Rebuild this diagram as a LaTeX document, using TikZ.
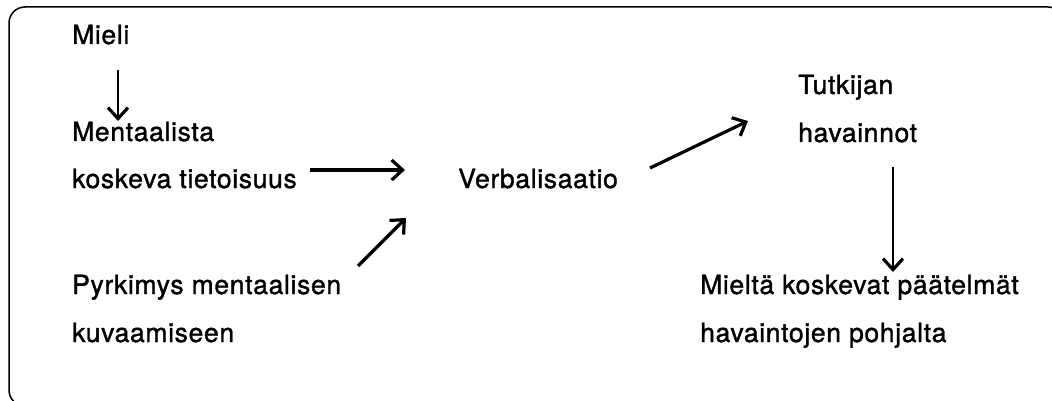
\documentclass[tikz,border=0pt]{standalone}
\usepackage{fontspec}
\setmainfont{TeX Gyre Heros}[LetterSpace=2.5,FakeBold=1.3]
\usetikzlibrary{arrows.meta}
\begin{document}
\begin{tikzpicture}[x=1pt,y=-1pt,
  lbl/.style={anchor=base west,inner sep=0pt,font=\fontsize{26.5}{30}\selectfont},
  arr/.style={line width=3.2pt,-{Straight Barb[length=11pt,width=20pt,line width=3.2pt]}},
  frame/.style={line width=1.5pt,rounded corners=16pt}]
\useasboundingbox (0,0) rectangle (1052,401);
\begin{scope}
\clip (0,0) rectangle (1052,401);
\draw[frame] (9,7) rectangle (1064,406);
\end{scope}
\node[lbl] (mieli) at (72,44) {Mieli};
\node[lbl] (ment1) at (72,141) {Mentaalista};
\node[lbl] (ment2) at (72,188) {koskeva tietoisuus};
\node[lbl] (pyr1) at (72,294) {Pyrkimys mentaalisen};
\node[lbl] (pyr2) at (72,342) {kuvaamiseen};
\node[lbl] (verb) at (458,188) {Verbalisaatio};
\node[lbl] (tut1) at (798,94) {Tutkijan};
\node[lbl] (tut2) at (798,142) {havainnot};
\node[lbl] (miel1) at (700,294) {Mieltä koskevat päätelmät};
\node[lbl] (miel2) at (700,342) {havaintojen pohjalta};
\coordinate (a1s) at (118,70);
\coordinate (a1e) at (118,121);
\coordinate (a2s) at (310,170);
\coordinate (a2e) at (405,170);
\coordinate (a3s) at (358,266);
\coordinate (a3e) at (406,218);
\coordinate (a4s) at (650,168);
\coordinate (a4e) at (748,121);
\coordinate (a5s) at (893,167);
\coordinate (a5e) at (893,272);
\draw[arr,line width=2.5pt] (a1s) -- (a1e);
\draw[arr] (a2s) -- (a2e);
\draw[arr] (a3s) -- (a3e);
\draw[arr] (a4s) -- (a4e);
\draw[arr,line width=2.5pt] (a5s) -- (a5e);
\end{tikzpicture}
\end{document}
